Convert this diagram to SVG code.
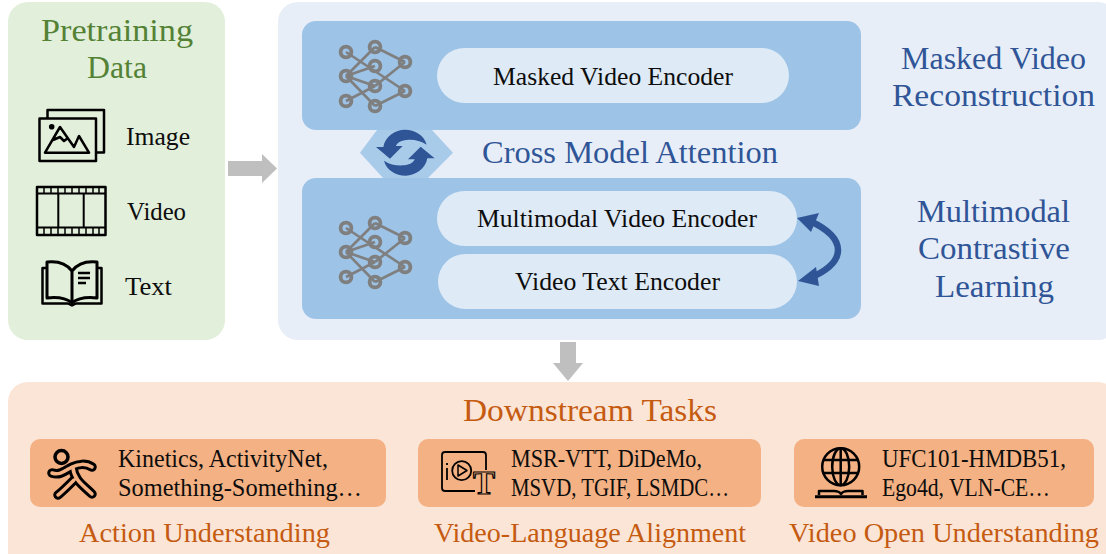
<svg xmlns="http://www.w3.org/2000/svg" width="1106" height="554" viewBox="0 0 1106 554">
<style>
text{font-family:"Liberation Serif","DejaVu Serif",serif;text-anchor:start}
.t30{font-size:32.5px}.t24{font-size:25.5px;fill:#0d0d0d}.t26{font-size:27.500px;fill:#c55a11}.t23{font-size:25px;fill:#0d0d0d}
.b{fill:#2f5597}.g{fill:#548235}.o{fill:#c55a11}
.pill{fill:#deeaf6}.mid{fill:#9dc3e6}.task{fill:#f4b183}
.ic{fill:none;stroke:#000;stroke-width:2.500;stroke-linejoin:round}
.net line{stroke:#7f7f7f;stroke-width:2.600}
.net circle{fill:none;stroke:#7f7f7f;stroke-width:3.800;r:5.400px}
</style>
<defs>
<g id="net" class="net">
<line x1="346" y1="52" x2="405" y2="91"/><line x1="346" y1="76" x2="375" y2="47"/><line x1="375" y1="47" x2="405" y2="62"/>
<line x1="346" y1="76" x2="375" y2="66"/><line x1="346" y1="76" x2="375" y2="86"/><line x1="346" y1="76" x2="375" y2="106"/>
<line x1="346" y1="101" x2="375" y2="86"/><line x1="375" y1="86" x2="405" y2="62"/><line x1="375" y1="106" x2="405" y2="91"/>
<circle cx="346" cy="52"/><circle cx="375" cy="47"/><circle cx="405" cy="62"/><circle cx="375" cy="66"/><circle cx="346" cy="76"/><circle cx="375" cy="86"/><circle cx="405" cy="91"/><circle cx="346" cy="101"/><circle cx="375" cy="106"/>
</g>
</defs>

<g id="panel-pretraining">
<rect x="8" y="2" width="217" height="338" rx="20" fill="#e2efda"/>
<text class="t30 g" x="41" y="40.500" textLength="152" lengthAdjust="spacingAndGlyphs">Pretraining</text>
<text class="t30 g" x="87" y="78" textLength="60" lengthAdjust="spacingAndGlyphs">Data</text>
</g>
<g id="node-image">
<rect x="39.500" y="118.500" width="56.500" height="42.500" class="ic"/>
<polyline points="47.500,118 47.500,110 104,110 104,152.500 96,152.500" class="ic"/>
<circle cx="51.700" cy="126.700" r="2.800"/>
<path d="M45 152.700H89L79 136L74 147L60 127ZM53 140L60 137L64 141L68 138" class="ic"/>
<text class="t24" x="126" y="145" textLength="64" lengthAdjust="spacingAndGlyphs">Image</text>
</g>
<g id="node-video">
<rect x="37" y="187" width="68.500" height="48" class="ic"/>
<path d="M37 193.500H105.500M37 227.500H105.500M58.300 193.500V227.500M83.700 193.500V227.500" class="ic" style="stroke-width:2"/>
<path d="M44 187v6.500M51 187v6.500M58 187v6.500M65 187v6.500M72 187v6.500M79 187v6.500M86 187v6.500M93 187v6.500M99 187v6.500M44 227.500V235M51 227.500V235M58 227.500V235M65 227.500V235M72 227.500V235M79 227.500V235M86 227.500V235M93 227.500V235M99 227.500V235" stroke="#000" stroke-width="1.500"/>
<text class="t24" x="127" y="220" textLength="59" lengthAdjust="spacingAndGlyphs">Video</text>
</g>
<g id="node-text">
<path d="M46 268H42.500V303.500H68L72 305.500L76 303.500H101.500V268H98" class="ic"/>
<path d="M72 271C66 263 56 261 47 262V298C56 297 66 298 72 303C78 298 88 297 97 298V262C88 261 78 263 72 271ZM72 271V303" class="ic" style="stroke-width:3"/>
<path d="M78 273H90M78 278H90M78 283H86" stroke="#000" stroke-width="2.500"/>
<text class="t24" x="125" y="295" textLength="47" lengthAdjust="spacingAndGlyphs">Text</text>
</g>

<g id="panel-model">
<rect x="278" y="2" width="840" height="338" rx="20" fill="#e8eef8"/>
<text class="t30 b" x="901" y="69" textLength="185" lengthAdjust="spacingAndGlyphs">Masked Video</text>
<text class="t30 b" x="892" y="106" textLength="203" lengthAdjust="spacingAndGlyphs">Reconstruction</text>
<text class="t30 b" x="482" y="163" textLength="296" lengthAdjust="spacingAndGlyphs">Cross Model Attention</text>
<text class="t30 b" x="917" y="222" textLength="153" lengthAdjust="spacingAndGlyphs">Multimodal</text>
<text class="t30 b" x="918" y="259" textLength="152" lengthAdjust="spacingAndGlyphs">Contrastive</text>
<text class="t30 b" x="935" y="297" textLength="119" lengthAdjust="spacingAndGlyphs">Learning</text>
</g>
<g id="node-masked-encoder">
<rect x="302" y="21" width="559" height="109" rx="14" class="mid"/>
<use href="#net"/>
<rect x="437" y="48" width="352" height="55" rx="27.500" class="pill"/>
<text class="t24" x="493" y="85" textLength="240" lengthAdjust="spacingAndGlyphs">Masked Video Encoder</text>
</g>
<g id="node-multimodal-encoder">
<rect x="302" y="178" width="559" height="141" rx="14" class="mid"/>
<use href="#net" transform="translate(0 176)"/>
<rect x="437" y="191" width="360" height="55" rx="27.500" class="pill"/>
<text class="t24" x="477" y="227" textLength="280" lengthAdjust="spacingAndGlyphs">Multimodal Video Encoder</text>
<rect x="438" y="254" width="359" height="55" rx="27.500" class="pill"/>
<text class="t24" x="515" y="290" textLength="205" lengthAdjust="spacingAndGlyphs">Video Text Encoder</text>
</g>
<g id="node-cross-attention">
<polygon points="360,152.700 377,130 432,130 453,152.700 428,178 383,178" fill="#a9cbea"/>
<g transform="translate(290 20) scale(.3333)" class="b">
<path d="M258 381H280C285 350 315 329 345 329C375 329 402 345 410 374C392 362 370 358 350 360C332 362 322 368 318 378H338L300 416Z"/>
<path d="M258 381H280C285 350 315 329 345 329C375 329 402 345 410 374C392 362 370 358 350 360C332 362 322 368 318 378H338L300 416Z" transform="rotate(180 346 398)"/>
</g>
</g>

<g id="connectors">
<polygon points="228,161 262,161 262,154 277,168.500 262,183 262,176 228,176" fill="#bfbfbf"/>
<polygon points="560,342 576,342 576,363 583,363 568,381 553,363 560,363" fill="#bfbfbf"/>
<path d="M810 221Q838 234 838 250Q838 266 810 278" fill="none" stroke="#2f5597" stroke-width="6.500"/>
<polygon points="797,218 819,213 811,232" class="b"/>
<polygon points="798,281 816,267 819,286" class="b"/>
</g>

<g id="panel-downstream">
<rect x="8" y="382" width="1110" height="190" rx="20" fill="#fbe5d6"/>
<text class="t30 o" x="463" y="421" textLength="254" lengthAdjust="spacingAndGlyphs">Downstream Tasks</text>
</g>
<g id="node-action">
<rect x="30" y="439" width="356" height="68" rx="10" class="task"/>
<g fill="none" stroke-linecap="round" stroke-linejoin="round">
<circle cx="61.500" cy="457" r="6.500" stroke="#000" stroke-width="3.500"/>
<path d="M52 473C60 476 66 470 72 467C78 464 86 463 92 467M73 468C74 480 84 486 92 494M74 480C68 486 62 492 58 495" stroke="#000" stroke-width="9.500"/>
<path d="M52 473C60 476 66 470 72 467C78 464 86 463 92 467M73 468C74 480 84 486 92 494M74 480C68 486 62 492 58 495" stroke="#f4b183" stroke-width="3.500"/>
</g>
<text class="t23" x="118" y="467" textLength="210" lengthAdjust="spacingAndGlyphs">Kinetics, ActivityNet,</text>
<text class="t23" x="118" y="495.500" textLength="244" lengthAdjust="spacingAndGlyphs">Something-Something…</text>
<text class="t26" x="79" y="542" textLength="251" lengthAdjust="spacingAndGlyphs">Action Understanding</text>
</g>
<g id="node-alignment">
<rect x="418" y="439" width="343" height="68" rx="10" class="task"/>
<path d="M486 470V455Q486 452 483 452H445Q442 452 442 455V488Q442 491 445 491H475" class="ic" style="stroke-width:1.800"/>
<circle cx="461.700" cy="470.700" r="9.500" class="ic" style="stroke-width:1.800"/>
<path d="M458 465L467 470.500L458 476Z" class="ic" style="stroke-width:1.500"/>
<path d="M447 468V480M447 463V465" class="ic" style="stroke-width:1.800"/>
<text x="484" y="494" font-size="33" font-weight="700" fill="#f4b183" stroke="#000" stroke-width="1.200" style="text-anchor:middle">T</text>
<text class="t23" x="511" y="467" textLength="191" lengthAdjust="spacingAndGlyphs">MSR-VTT, DiDeMo,</text>
<text class="t23" x="511" y="495.500" textLength="218" lengthAdjust="spacingAndGlyphs">MSVD, TGIF, LSMDC…</text>
<text class="t26" x="434" y="542" textLength="312" lengthAdjust="spacingAndGlyphs">Video-Language Alignment</text>
</g>
<g id="node-open">
<rect x="794" y="439" width="300" height="68" rx="10" class="task"/>
<g class="ic" style="stroke-width:2.500">
<circle cx="840.700" cy="466.700" r="18.500"/>
<ellipse cx="840.700" cy="466.700" rx="8.500" ry="18.500"/>
<path d="M840.700 448V485M823 460H858.500M823 473H858.500"/>
<path d="M819 495V491H834Q839 491 841 494Q843 491 848 491H862.500V495"/>
</g>
<path d="M815 496.800H867" stroke="#000" stroke-width="3"/>
<text class="t23" x="882" y="467" textLength="184" lengthAdjust="spacingAndGlyphs">UFC101-HMDB51,</text>
<text class="t23" x="882" y="495.500" textLength="168" lengthAdjust="spacingAndGlyphs">Ego4d, VLN-CE…</text>
<text class="t26" x="789" y="542" textLength="310" lengthAdjust="spacingAndGlyphs">Video Open Understanding</text>
</g>
</svg>
